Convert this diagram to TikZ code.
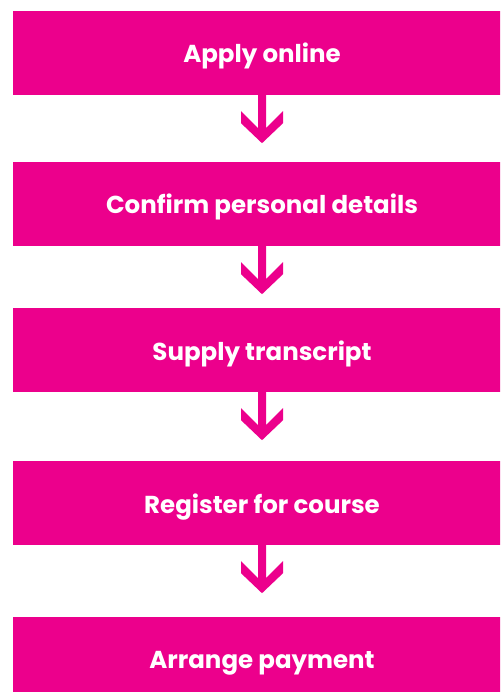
\documentclass[tikz,border=0pt]{standalone}
\usepackage{fontspec}
\setmainfont{Poppins}
\definecolor{brandpink}{RGB}{236,0,140}
\begin{document}
\begin{tikzpicture}[x=1pt,y=-1pt,
  stepbox/.style={fill=brandpink, text=white, font=\fontsize{24.5}{28}\selectfont\bfseries,
    minimum width=498pt, minimum height=84pt, inner sep=0pt, text height=20pt, text depth=0pt, anchor=center},
  downarrow/.style={fill=brandpink}]
\useasboundingbox (0,0) rectangle (500,692);
\clip (0,0) rectangle (500,692);
\node[stepbox] (b1) at (262,53) {Apply online};
\node[stepbox] (b2) at (262,204) {Confirm personal details};
\node[stepbox] (b3) at (262,350) {Supply transcript};
\node[stepbox] (b4) at (262,503) {Register for course};
\node[stepbox] (b5) at (262,658.5) {Arrange payment};
\foreach \n in {b1,b2,b3,b4}{
  \fill[downarrow] ([xshift=-4pt]\n.south) -- ++(0,33) -- ++(-17,-17) -- ++(0,12) -- ++(21,20)
    -- ++(21,-20) -- ++(0,-12) -- ++(-17,17) -- ++(0,-33) -- cycle;
}
\end{tikzpicture}
\end{document}
